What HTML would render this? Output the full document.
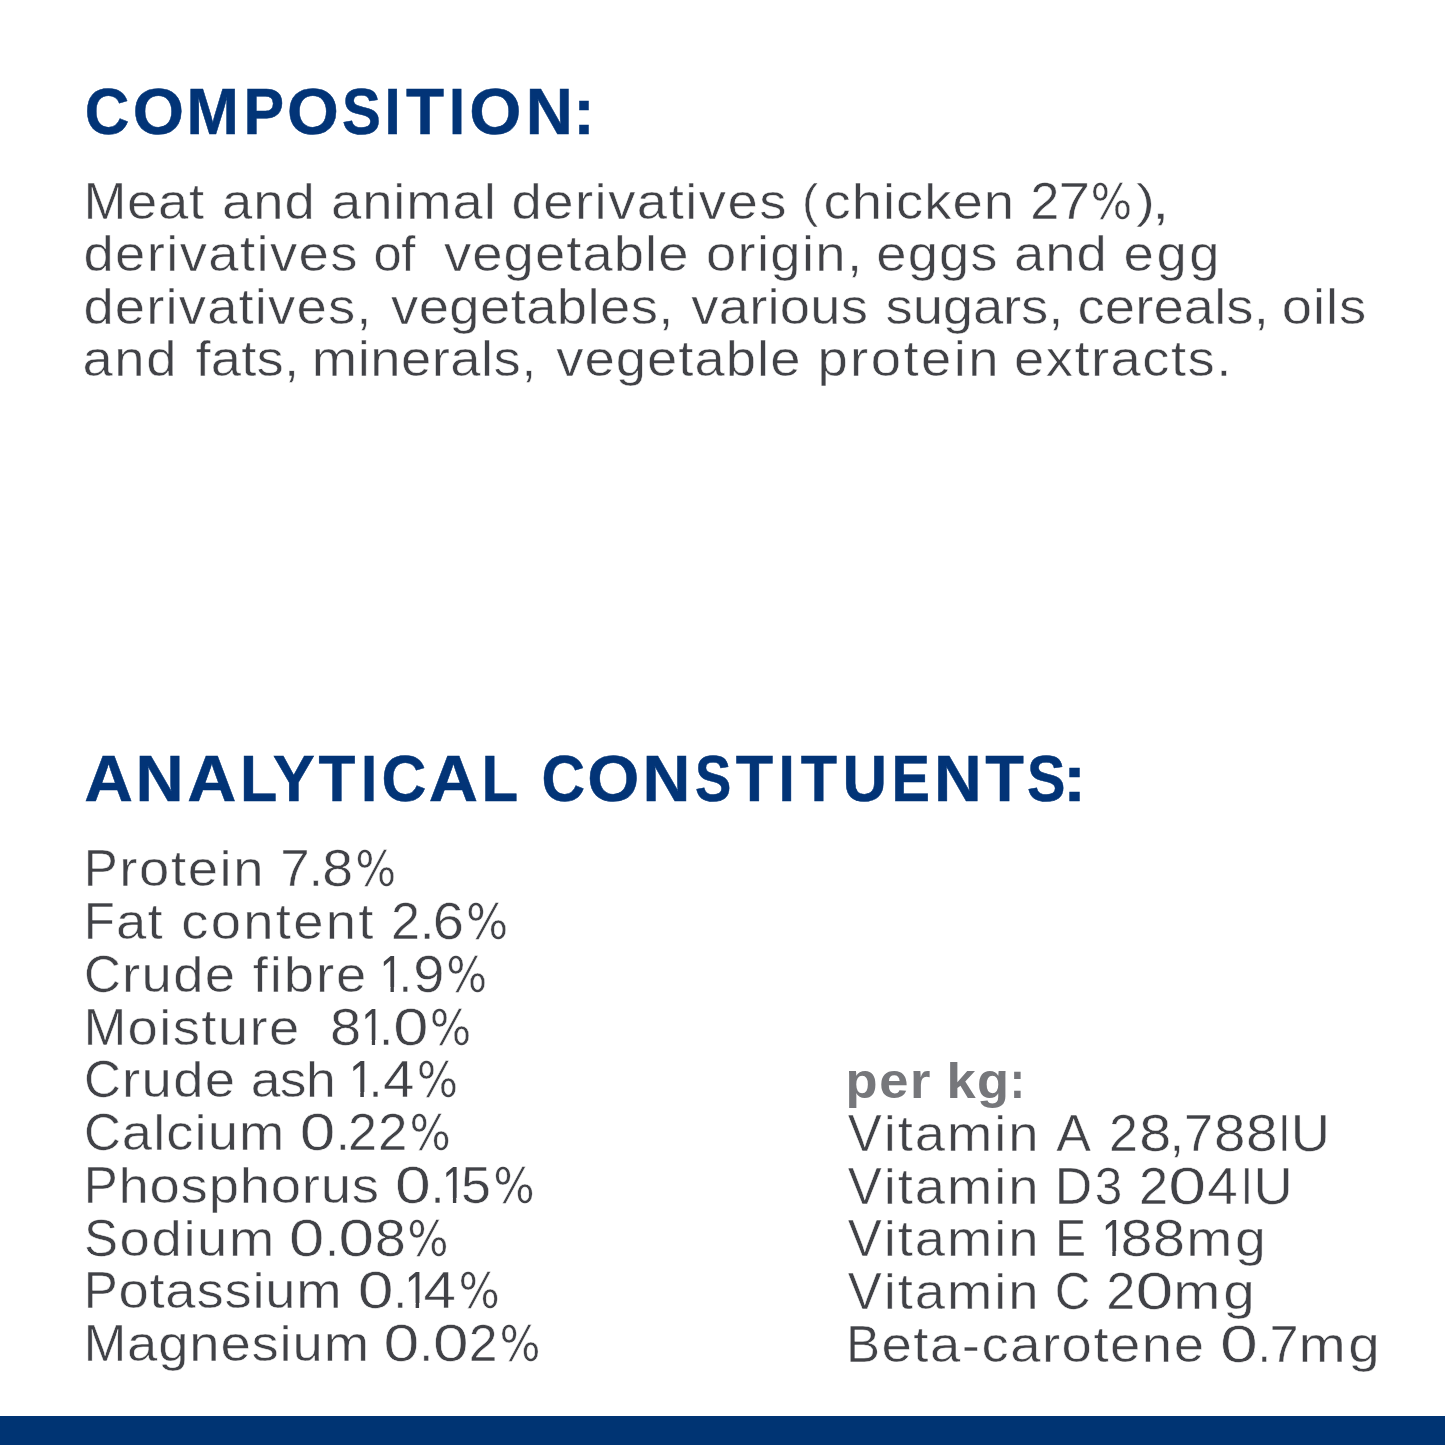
<!DOCTYPE html>
<html lang="en"><head><meta charset="utf-8"><title>Composition &amp; analytical constituents</title>
<style>
html,body{margin:0;padding:0;background:#fff;}
body{width:1445px;height:1445px;position:relative;overflow:hidden;font-family:"Liberation Sans",Arial,sans-serif;}
.l{position:absolute;left:0;top:0;margin:0;white-space:nowrap;line-height:1;font-size:49.5px;}
.l span{position:absolute;left:0;top:0;display:block;transform-origin:0 0;white-space:pre;}
.l b{font-weight:inherit;font-size:51.5px;}
.l b.k{display:inline-block;transform:scaleX(0.9);transform-origin:0 0;}
.l b.pc{font-family:"DejaVu Sans",sans-serif;font-size:49.7px;}
.l b.pa{font-size:46.5px;position:relative;top:-2px;}
.l .one{-webkit-text-stroke:0;clip-path:polygon(0 0,40px 0,40px 37.9px,17.1px 37.9px,17.1px 100%,13.0px 100%,13.0px 37.9px,0 37.9px);}
.r{font-weight:400;color:#414247;-webkit-text-stroke:0.5px #fff;}
.b{font-weight:700;color:#76777b;}
.h{font-weight:700;color:#023477;font-size:65px;-webkit-text-stroke:0.5px #023477;}
.h b{font-size:inherit;}
.bar{position:absolute;left:0;top:1416px;width:1445px;height:29px;background:#003473;}
</style></head><body>
<h2 class="l h"><span style="transform:translate(84.64px,79px) scaleX(0.9506)">C</span><span style="transform:translate(132.72px,79px) scaleX(1.0151)">O</span><span style="transform:translate(186.47px,79px) scaleX(0.9677)">M</span><span style="transform:translate(243.49px,79px) scaleX(0.9351)">P</span><span style="transform:translate(286.90px,79px) scaleX(1.0258)">O</span><span style="transform:translate(342.03px,79px) scaleX(0.8963)">S</span><span style="transform:translate(384.54px,79px) scaleX(0.8952)">I</span><span style="transform:translate(405.94px,79px) scaleX(0.9595)">T</span><span style="transform:translate(449.08px,79px) scaleX(0.8857)">I</span><span style="transform:translate(469.29px,79px) scaleX(1.0323)">O</span><span style="transform:translate(525.84px,79px) scaleX(1.0025)">N</span><span style="transform:translate(573.20px,79px) scaleX(0.9905)">:</span></h2>
<p class="l r"><span style="transform:translate(83.67px,176px) scaleX(1.1000);letter-spacing:0.66px"><b class="k" style="margin-right:-4.29px">M</b>eat</span> <span style="transform:translate(221.93px,177px) scaleX(1.1000);letter-spacing:0.86px">and</span> <span style="transform:translate(331.02px,177px) scaleX(1.1000);letter-spacing:0.79px">animal</span> <span style="transform:translate(511.42px,177px) scaleX(1.1000);letter-spacing:1.35px">derivatives</span> <span style="transform:translate(801.93px,177px) scaleX(1.0519)"><b class="pa">(</b></span><span style="transform:translate(823.52px,177px) scaleX(1.1000);letter-spacing:0.90px">chicken</span> <span style="transform:translate(1030.21px,176px) scaleX(1.0163)"><b>2</b></span><span style="transform:translate(1058.42px,176px) scaleX(1.1020)"><b>7</b></span><span style="transform:translate(1090.51px,177px) scaleX(0.8847)"><b class="pc">%</b></span><span style="transform:translate(1135.99px,177px) scaleX(1.2240)"><b class="pa">)</b></span><span style="transform:translate(1151.77px,176px) scaleX(1.2545)"><b>,</b></span></p>
<p class="l r"><span style="transform:translate(83.43px,229px) scaleX(1.1000);letter-spacing:1.25px">derivatives</span> <span style="transform:translate(373.59px,229px) scaleX(1.0252);letter-spacing:-0.50px">of</span> <span style="transform:translate(444.03px,229px) scaleX(1.1000);letter-spacing:0.94px">vegetable</span> <span style="transform:translate(705.92px,229px) scaleX(1.1000);letter-spacing:1.18px">origin,</span> <span style="transform:translate(876.32px,229px) scaleX(1.1000);letter-spacing:0.97px">eggs</span> <span style="transform:translate(1014.02px,229px) scaleX(1.1000);letter-spacing:0.86px">and</span> <span style="transform:translate(1123.62px,229px) scaleX(1.1000);letter-spacing:2.31px">egg</span></p>
<p class="l r"><span style="transform:translate(83.43px,282px) scaleX(1.1000);letter-spacing:1.04px">derivatives,</span> <span style="transform:translate(391.03px,282px) scaleX(1.1000);letter-spacing:0.35px">vegetables,</span> <span style="transform:translate(691.23px,282px) scaleX(1.1000);letter-spacing:0.19px">various</span> <span style="transform:translate(885.62px,282px) scaleX(1.1000);letter-spacing:-0.13px">sugars,</span> <span style="transform:translate(1077.53px,282px) scaleX(1.1000);letter-spacing:0.08px">cereals,</span> <span style="transform:translate(1281.83px,282px) scaleX(1.1000);letter-spacing:0.81px">oils</span></p>
<p class="l r"><span style="transform:translate(82.43px,334px) scaleX(1.1000);letter-spacing:1.45px">and</span> <span style="transform:translate(195.53px,334px) scaleX(1.1000);letter-spacing:0.16px">fats,</span> <span style="transform:translate(311.82px,334px) scaleX(1.1000);letter-spacing:0.42px">minerals,</span> <span style="transform:translate(556.23px,334px) scaleX(1.1000);letter-spacing:0.92px">vegetable</span> <span style="transform:translate(817.42px,334px) scaleX(1.1000);letter-spacing:2.20px">protein</span> <span style="transform:translate(1014.02px,334px) scaleX(1.1000);letter-spacing:1.32px">extracts.</span></p>
<h2 class="l h"><span style="transform:translate(84.22px,746px) scaleX(1.0374)">A</span><span style="transform:translate(135.56px,746px) scaleX(1.0253)">N</span><span style="transform:translate(187.22px,746px) scaleX(1.0462)">A</span><span style="transform:translate(239.88px,746px) scaleX(0.9391)">L</span><span style="transform:translate(272.67px,746px) scaleX(0.9694)">Y</span><span style="transform:translate(318.43px,746px) scaleX(0.9291)">T</span><span style="transform:translate(361.04px,746px) scaleX(0.8952)">I</span><span style="transform:translate(381.43px,746px) scaleX(0.9551)">C</span><span style="transform:translate(428.71px,746px) scaleX(1.0484)">A</span><span style="transform:translate(481.54px,746px) scaleX(0.9217)">L</span> <span style="transform:translate(541.38px,746px) scaleX(0.9281)">C</span><span style="transform:translate(587.30px,746px) scaleX(1.0301)">O</span><span style="transform:translate(642.47px,746px) scaleX(1.0203)">N</span><span style="transform:translate(695.07px,746px) scaleX(0.8370)">S</span><span style="transform:translate(735.64px,746px) scaleX(0.9418)">T</span><span style="transform:translate(778.51px,746px) scaleX(0.9048)">I</span><span style="transform:translate(800.83px,746px) scaleX(0.9139)">T</span><span style="transform:translate(842.39px,746px) scaleX(0.9481)">U</span><span style="transform:translate(891.47px,746px) scaleX(0.8880)">E</span><span style="transform:translate(933.99px,746px) scaleX(1.0152)">N</span><span style="transform:translate(985.34px,746px) scaleX(0.9722)">T</span><span style="transform:translate(1027.04px,746px) scaleX(0.8864)">S</span><span style="transform:translate(1063.07px,746px) scaleX(1.0667)">:</span></h2>
<p class="l r"><span style="transform:translate(83.67px,843px) scaleX(1.1000);letter-spacing:1.47px"><b class="k" style="margin-right:-3.44px">P</b>rotein</span> <span style="transform:translate(280.29px,843px) scaleX(1.0286)"><b>7</b></span><span style="transform:translate(308.83px,843px) scaleX(0.9818)"><b>.</b></span><span style="transform:translate(322.18px,843px) scaleX(1.0776)"><b>8</b></span><span style="transform:translate(355.25px,844px) scaleX(0.8659)"><b class="pc">%</b></span></p>
<p class="l r"><span style="transform:translate(83.67px,896px) scaleX(1.1000);letter-spacing:1.08px"><b class="k" style="margin-right:-3.15px">F</b>at</span> <span style="transform:translate(181.33px,897px) scaleX(1.1000);letter-spacing:2.04px">content</span> <span style="transform:translate(391.12px,896px) scaleX(1.0122)"><b>2</b></span><span style="transform:translate(419.44px,896px) scaleX(1.0727)"><b>.</b></span><span style="transform:translate(432.65px,896px) scaleX(1.0898)"><b>6</b></span><span style="transform:translate(465.99px,897px) scaleX(0.8941)"><b class="pc">%</b></span></p>
<p class="l r"><span style="transform:translate(83.95px,949px) scaleX(1.1000);letter-spacing:1.21px"><b class="k" style="margin-right:-3.72px">C</b>rude</span> <span style="transform:translate(252.82px,950px) scaleX(1.1000);letter-spacing:1.73px">fibre</span> <span class="one" style="transform:translate(379.83px,949px) scaleX(0.8215)"><b>1</b></span><span style="transform:translate(398.60px,949px) scaleX(0.9636)"><b>.</b></span><span style="transform:translate(413.25px,949px) scaleX(1.0898)"><b>9</b></span><span style="transform:translate(446.35px,950px) scaleX(0.8659)"><b class="pc">%</b></span></p>
<p class="l r"><span style="transform:translate(83.67px,1002px) scaleX(1.1000);letter-spacing:1.25px"><b class="k" style="margin-right:-4.29px">M</b>oisture</span>  <span style="transform:translate(329.95px,1002px) scaleX(1.0898)"><b>8</b></span><span class="one" style="transform:translate(361.54px,1002px) scaleX(0.7916)"><b>1</b></span><span style="transform:translate(379.05px,1002px) scaleX(1.0000)"><b>.</b></span><span style="transform:translate(393.14px,1002px) scaleX(1.2286)"><b>0</b></span><span style="transform:translate(429.82px,1003px) scaleX(0.8800)"><b class="pc">%</b></span></p>
<p class="l r"><span style="transform:translate(83.95px,1054px) scaleX(1.1000);letter-spacing:1.21px"><b class="k" style="margin-right:-3.72px">C</b>rude</span> <span style="transform:translate(250.67px,1055px) scaleX(1.0802);letter-spacing:-0.50px">ash</span> <span class="one" style="transform:translate(348.93px,1054px) scaleX(0.8738)"><b>1</b></span><span style="transform:translate(368.53px,1054px) scaleX(0.9818)"><b>.</b></span><span style="transform:translate(382.93px,1054px) scaleX(1.0981)"><b>4</b></span><span style="transform:translate(416.83px,1055px) scaleX(0.8753)"><b class="pc">%</b></span></p>
<p class="l r"><span style="transform:translate(83.95px,1107px) scaleX(1.1000);letter-spacing:0.94px"><b class="k" style="margin-right:-3.72px">C</b>alcium</span> <span style="transform:translate(299.81px,1107px) scaleX(1.2408)"><b>0</b></span><span style="transform:translate(335.63px,1107px) scaleX(0.9818)"><b>.</b></span><span style="transform:translate(348.12px,1107px) scaleX(1.0122)"><b>2</b></span><span style="transform:translate(378.09px,1107px) scaleX(1.0286)"><b>2</b></span><span style="transform:translate(409.43px,1108px) scaleX(0.8753)"><b class="pc">%</b></span></p>
<p class="l r"><span style="transform:translate(83.67px,1160px) scaleX(1.1000);letter-spacing:0.72px"><b class="k" style="margin-right:-3.44px">P</b>hosphorus</span> <span style="transform:translate(395.09px,1160px) scaleX(1.2490)"><b>0</b></span><span style="transform:translate(430.53px,1160px) scaleX(0.9818)"><b>.</b></span><span class="one" style="transform:translate(442.23px,1160px) scaleX(0.8215)"><b>1</b></span><span style="transform:translate(461.05px,1160px) scaleX(1.0449)"><b>5</b></span><span style="transform:translate(493.23px,1161px) scaleX(0.8776)"><b class="pc">%</b></span></p>
<p class="l r"><span style="transform:translate(83.95px,1213px) scaleX(1.1000);letter-spacing:1.47px"><b class="k" style="margin-right:-3.44px">S</b>odium</span> <span style="transform:translate(288.93px,1213px) scaleX(1.2327)"><b>0</b></span><span style="transform:translate(324.93px,1213px) scaleX(0.9818)"><b>.</b></span><span style="transform:translate(338.51px,1213px) scaleX(1.2408)"><b>0</b></span><span style="transform:translate(374.66px,1213px) scaleX(1.0857)"><b>8</b></span><span style="transform:translate(407.13px,1214px) scaleX(0.8753)"><b class="pc">%</b></span></p>
<p class="l r"><span style="transform:translate(83.67px,1265px) scaleX(1.1000);letter-spacing:0.69px"><b class="k" style="margin-right:-3.44px">P</b>otassium</span> <span style="transform:translate(357.69px,1265px) scaleX(1.2490)"><b>0</b></span><span style="transform:translate(393.13px,1265px) scaleX(0.9818)"><b>.</b></span><span class="one" style="transform:translate(404.77px,1265px) scaleX(0.8364)"><b>1</b></span><span style="transform:translate(423.58px,1265px) scaleX(1.1321)"><b>4</b></span><span style="transform:translate(458.53px,1266px) scaleX(0.8753)"><b class="pc">%</b></span></p>
<p class="l r"><span style="transform:translate(83.67px,1318px) scaleX(1.1000);letter-spacing:0.77px"><b class="k" style="margin-right:-4.29px">M</b>agnesium</span> <span style="transform:translate(383.49px,1318px) scaleX(1.2490)"><b>0</b></span><span style="transform:translate(419.33px,1318px) scaleX(0.9818)"><b>.</b></span><span style="transform:translate(432.91px,1318px) scaleX(1.2408)"><b>0</b></span><span style="transform:translate(468.84px,1318px) scaleX(1.0041)"><b>2</b></span><span style="transform:translate(499.55px,1319px) scaleX(0.8682)"><b class="pc">%</b></span></p>
<p class="l b"><span style="transform:translate(845.52px,1056px) scaleX(1.0600);letter-spacing:1.51px">per</span> <span style="transform:translate(946.52px,1056px) scaleX(1.0600);letter-spacing:1.11px">kg</span><span style="transform:translate(1009.64px,1055px) scaleX(0.8889)"><b>:</b></span></p>
<p class="l r"><span style="transform:translate(847.73px,1108px) scaleX(1.1000);letter-spacing:1.75px"><b class="k" style="margin-right:-3.44px">V</b>itamin</span> <span style="transform:translate(1056.35px,1108px) scaleX(1.0116)"><b>A</b></span> <span style="transform:translate(1108.93px,1108px) scaleX(1.0082)"><b>2</b></span><span style="transform:translate(1139.18px,1108px) scaleX(1.1184)"><b>8</b></span><span style="transform:translate(1169.57px,1108px) scaleX(1.0182)"><b>,</b></span><span style="transform:translate(1184.11px,1108px) scaleX(1.0163)"><b>7</b></span><span style="transform:translate(1214.03px,1108px) scaleX(1.0980)"><b>8</b></span><span style="transform:translate(1246.12px,1108px) scaleX(1.1020)"><b>8</b></span><span style="transform:translate(1278.25px,1108px) scaleX(0.8364)"><b>I</b></span><span style="transform:translate(1290.87px,1108px) scaleX(1.0557)"><b>U</b></span></p>
<p class="l r"><span style="transform:translate(847.73px,1161px) scaleX(1.1000);letter-spacing:1.75px"><b class="k" style="margin-right:-3.44px">V</b>itamin</span> <span style="transform:translate(1054.82px,1161px) scaleX(1.0066)"><b>D</b></span><span style="transform:translate(1094.80px,1161px) scaleX(0.9608)"><b>3</b></span> <span style="transform:translate(1139.01px,1161px) scaleX(1.0163)"><b>2</b></span><span style="transform:translate(1168.22px,1161px) scaleX(1.3224)"><b>0</b></span><span style="transform:translate(1207.27px,1161px) scaleX(1.0642)"><b>4</b></span><span style="transform:translate(1241.02px,1161px) scaleX(0.8182)"><b>I</b></span><span style="transform:translate(1253.47px,1161px) scaleX(1.0557)"><b>U</b></span></p>
<p class="l r"><span style="transform:translate(847.73px,1213px) scaleX(1.1000);letter-spacing:1.75px"><b class="k" style="margin-right:-3.44px">V</b>itamin</span> <span style="transform:translate(1055.30px,1213px) scaleX(0.8947)"><b>E</b></span> <span class="one" style="transform:translate(1101.63px,1213px) scaleX(0.8215)"><b>1</b></span><span style="transform:translate(1120.48px,1213px) scaleX(1.1184)"><b>8</b></span><span style="transform:translate(1152.67px,1213px) scaleX(1.1265)"><b>8</b></span><span style="transform:translate(1186.26px,1214px) scaleX(1.1192);letter-spacing:2.40px">mg</span></p>
<p class="l r"><span style="transform:translate(847.73px,1266px) scaleX(1.1000);letter-spacing:1.75px"><b class="k" style="margin-right:-3.44px">V</b>itamin</span> <span style="transform:translate(1054.74px,1266px) scaleX(0.9582)"><b>C</b></span> <span style="transform:translate(1106.21px,1266px) scaleX(1.0163)"><b>2</b></span><span style="transform:translate(1135.42px,1266px) scaleX(1.3224)"><b>0</b></span><span style="transform:translate(1173.28px,1267px) scaleX(1.1453);letter-spacing:2.40px">mg</span></p>
<p class="l r"><span style="transform:translate(845.97px,1319px) scaleX(1.1000);letter-spacing:1.38px"><b class="k" style="margin-right:-3.44px">B</b>eta-carotene</span> <span style="transform:translate(1220.12px,1319px) scaleX(1.3224)"><b>0</b></span><span style="transform:translate(1257.84px,1319px) scaleX(0.9091)"><b>.</b></span><span style="transform:translate(1269.41px,1319px) scaleX(1.0163)"><b>7</b></span><span style="transform:translate(1298.38px,1320px) scaleX(1.1453);letter-spacing:2.40px">mg</span></p>
<div class="bar"></div>
</body></html>
